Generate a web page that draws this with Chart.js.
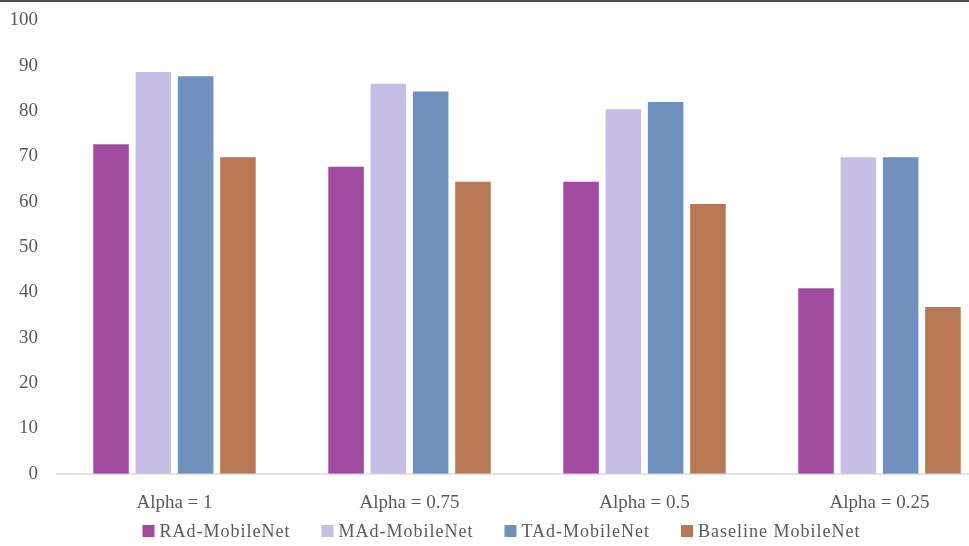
<!DOCTYPE html>
<html>
<head>
<meta charset="utf-8">
<script src="https://cdn.jsdelivr.net/npm/chart.js@4/dist/chart.umd.min.js"></script>
<style>
  html, body { margin: 0; padding: 0; background: #fff; overflow: hidden; }
  #wrap { position: relative; width: 969px; height: 546px; overflow: hidden; }
  #topline { position: absolute; left: 0; top: 0; width: 969px; height: 2px; background: #4d4d4d; z-index: 2; }
  canvas { position: absolute; left: 0; top: -10px; }
</style>
</head>
<body>
<div id="wrap">
  <div id="topline"></div>
  <canvas id="c" width="1003" height="556"></canvas>
</div>
<script>
// Accuracy (%) of the MobileNet variants at each width multiplier
const categories = ['Alpha = 1', 'Alpha = 0.75', 'Alpha = 0.5', 'Alpha = 0.25'];
const seriesNames = ['RAd-MobileNet', 'MAd-MobileNet', 'TAd-MobileNet', 'Baseline MobileNet'];
const radValues = [72.7, 67.7, 64.4, 40.9];
const madValues = [88.6, 86.0, 80.4, 69.8];
const tadValues = [87.7, 84.3, 82.0, 69.8];
const baselineValues = [69.8, 64.4, 59.5, 36.8];
const yTicks = [0, 10, 20, 30, 40, 50, 60, 70, 80, 90, 100];

const colors = ['#A04AA0', '#C6BEE4', '#6F91BE', '#B77853'];
const textColor = '#595959';
const fontFamily = '"Liberation Serif", "Times New Roman", serif';

// Legend drawn along the bottom edge, centred under the plot
const bottomLegend = {
  id: 'bottomLegend',
  afterDraw(chart) {
    const ctx = chart.ctx;
    const box = 12, gap = 5, spacing = 31, centerX = 501.5, centerY = 541;
    ctx.save();
    ctx.font = '18px ' + fontFamily;
    ctx.letterSpacing = '1px';
    ctx.textBaseline = 'middle';
    const items = chart.data.datasets.map(ds => ({
      label: ds.label, color: ds.backgroundColor,
      w: ctx.measureText(ds.label).width
    }));
    let total = items.reduce((s, it) => s + box + gap + it.w, 0) + spacing * (items.length - 1);
    let x = centerX - total / 2;
    items.forEach(it => {
      ctx.fillStyle = it.color;
      ctx.fillRect(x, centerY - box / 2, box, box);
      ctx.fillStyle = textColor;
      ctx.fillText(it.label, x + box + gap, centerY + 1);
      x += box + gap + it.w + spacing;
    });
    ctx.restore();
  }
};

const valueSets = [radValues, madValues, tadValues, baselineValues];

new Chart(document.getElementById('c'), {
  type: 'bar',
  data: {
    labels: categories,
    datasets: seriesNames.map((name, i) => ({
      label: name,
      data: valueSets[i],
      backgroundColor: colors[i],
      borderWidth: 0,
      categoryPercentage: 0.72,
      barPercentage: 0.84
    }))
  },
  options: {
    responsive: false,
    animation: false,
    devicePixelRatio: 1,
    layout: { padding: { left: -9.5, right: 6, top: -3, bottom: 13.5 } },
    plugins: {
      legend: { display: false },
      tooltip: { enabled: false }
    },
    scales: {
      x: {
        grid: { display: false, drawTicks: false },
        border: { display: true, color: '#e3e3e3', width: 2 },
        ticks: { color: textColor, font: { family: fontFamily, size: 19 }, padding: 18 }
      },
      y: {
        min: 0,
        max: 100,
        afterBuildTicks(axis) { axis.ticks = yTicks.map(v => ({ value: v })); },
        grid: { display: false, drawTicks: false },
        border: { display: false },
        ticks: { color: textColor, font: { family: fontFamily, size: 19 }, padding: 19 }
      }
    }
  },
  plugins: [bottomLegend]
});
</script>
</body>
</html>
